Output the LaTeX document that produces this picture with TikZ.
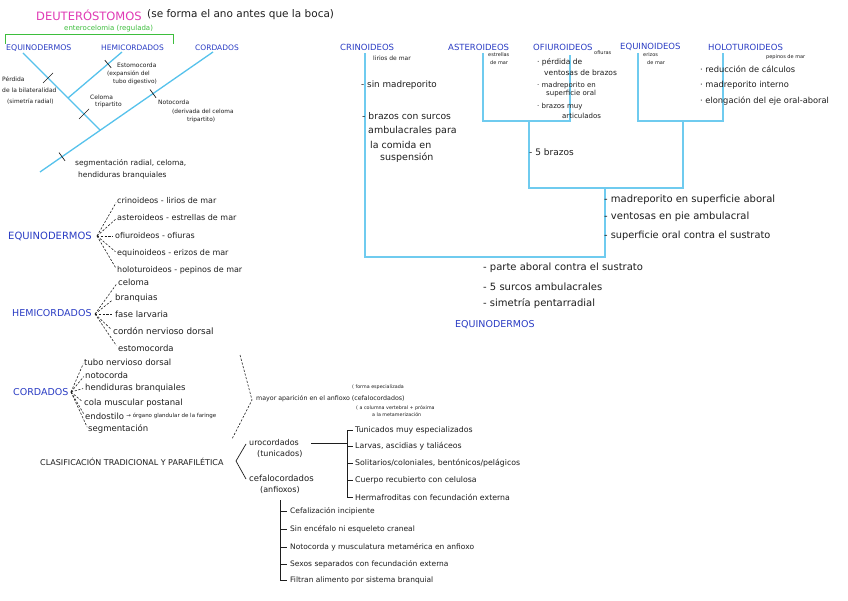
\documentclass[tikz,border=0pt]{standalone}
\usepackage{fontspec}
\setmainfont{DejaVu Sans}
\definecolor{tree}{HTML}{56C2EC}
\definecolor{hdr}{HTML}{2A3CC4}
\definecolor{mag}{HTML}{E03AB5}
\definecolor{grn}{HTML}{3DBE3D}
\definecolor{ink}{HTML}{1E1E1E}
\tikzset{
  fs/.style={font=\fontsize{#1}{#1}\selectfont},
  tx/.style={anchor=west, inner sep=0pt, text=ink, fs=#1}, tx/.default=7.5,
  hd/.style={anchor=west, inner sep=0pt, text=hdr, fs=#1}, hd/.default=8.5,
  cl/.style={draw=tree, line width=1.3pt},
  lk/.style={draw=tree!85, line width=1.1pt},
  tk/.style={draw=ink, line width=0.7pt},
  dsh/.style={draw=ink, line width=0.6pt, dash pattern=on 2.2pt off 1.6pt},
  blk/.style={draw=ink, line width=0.7pt},
}
\begin{document}
\begin{tikzpicture}[x=1pt,y=-1pt]
\useasboundingbox (0,0) rectangle (848,601);
\fill[white] (0,0) rectangle (848,601);

% ---------- title ----------
\node[tx=11.5, text=mag] (title) at (36,15) {DEUTERÓSTOMOS};
\node[tx=10.5] (sub) at (147,15) {(se forma el ano antes que la boca)};
\node[tx=7, text=grn] (grnt) at (64,29) {enterocelomia (regulada)};
\coordinate (g1) at (5,44); \coordinate (g2) at (5,35);
\coordinate (g3) at (173,35); \coordinate (g4) at (173,44);
\draw[draw=grn, line width=1pt] (g1) -- (g2) -- (g3) -- (g4);

% ---------- left cladogram ----------
\node[hd=7.8] (hEq) at (6,48) {EQUINODERMOS};
\node[hd=7.5] (hHe) at (101,48) {HEMICORDADOS};
\node[hd=7.5] (hCo) at (195,48) {CORDADOS};
\coordinate (cEq) at (23,53);
\coordinate (cHe) at (122,52);
\coordinate (cCo) at (213,52);
\coordinate (jA) at (68,98);
\coordinate (jB) at (100,130);
\coordinate (root) at (40,172);
\draw[cl] (cEq) -- (jB);
\draw[cl] (cHe) -- (jA);
\draw[cl] (cCo) -- (root);
\coordinate (t1a) at (43,83);   \coordinate (t1b) at (53,73);
\coordinate (t2a) at (79,119);  \coordinate (t2b) at (89,109);
\coordinate (t3a) at (104.8,60.2); \coordinate (t3b) at (111.2,67.8);
\coordinate (t4a) at (150,89.5); \coordinate (t4b) at (156,97.7);
\coordinate (t5a) at (59,152.6); \coordinate (t5b) at (65,160.8);
\draw[tk] (t1a) -- (t1b);
\draw[tk] (t2a) -- (t2b);
\draw[tk] (t3a) -- (t3b);
\draw[tk] (t4a) -- (t4b);
\draw[tk] (t5a) -- (t5b);
\node[tx=6] (l1a) at (2,79) {Pérdida};
\node[tx=6] (l1b) at (2,90) {de la bilateralidad};
\node[tx=5.8] (l1c) at (7,102) {(simetría radial)};
\node[tx=6] (l2a) at (117,65) {Estomocorda};
\node[tx=5.8] (l2b) at (107,74) {(expansión del};
\node[tx=5.8] (l2c) at (113,82) {tubo digestivo)};
\node[tx=6] (l3a) at (90,97) {Celoma};
\node[tx=6] (l3b) at (95,105) {tripartito};
\node[tx=6] (l4a) at (158,102) {Notocorda};
\node[tx=5.8] (l4b) at (172,112) {(derivada del celoma};
\node[tx=5.8] (l4c) at (187,120) {tripartito)};
\node[tx=7.5] (l5a) at (75,163) {segmentación radial, celoma,};
\node[tx=7.5] (l5b) at (78,175) {hendiduras branquiales};

% ---------- right cladogram ----------
\node[hd] (rCr) at (340,47) {CRINOIDEOS};
\node[hd] (rAs) at (448,47) {ASTEROIDEOS};
\node[hd] (rOf) at (533,47) {OFIUROIDEOS};
\node[hd] (rEq) at (620,47) {EQUINOIDEOS};
\node[hd] (rHo) at (708,47) {HOLOTUROIDEOS};
\coordinate (vCr) at (365,53);
\coordinate (vAs) at (483,53);
\coordinate (vOf) at (570,55);
\coordinate (vEq) at (638,53);
\coordinate (vHo) at (723,53);
\coordinate (kAs) at (483,121); \coordinate (kOf) at (570,121);
\coordinate (kEq) at (638,121); \coordinate (kHo) at (723,121);
\coordinate (bL) at (529,121); \coordinate (bLb) at (529,188);
\coordinate (bR) at (683,121); \coordinate (bRb) at (683,188);
\coordinate (mT) at (605,188); \coordinate (mB) at (605,257);
\coordinate (cB) at (365,257);
\draw[lk] (vAs) -- (kAs) -- (kOf) -- (vOf);
\draw[lk] (vEq) -- (kEq) -- (kHo) -- (vHo);
\draw[lk] (bL) -- (bLb) -- (bRb) -- (bR);
\draw[lk] (mT) -- (mB) -- (cB) -- (vCr);

\node[tx=6] (crA) at (373,58) {lirios de mar};
\node[tx=8.8] (crB) at (361,85) {- sin madreporito};
\node[tx=9.2] (crC) at (362,116) {- brazos con surcos};
\node[tx=9.5] (crD) at (368,131) {ambulacrales para};
\node[tx=9.5] (crE) at (370,145) {la comida en};
\node[tx=9.5] (crF) at (380,158) {suspensión};
\node[tx=5] (asA) at (488,55) {estrellas};
\node[tx=5] (asB) at (490,63) {de mar};
\node[tx=5] (ofA) at (594,53) {ofiuras};
\node[tx=7.5] (ofB) at (537,62) {· pérdida de};
\node[tx=7.5] (ofC) at (544,73) {ventosas de brazos};
\node[tx=7] (ofD) at (537,86) {· madreporito en};
\node[tx=7] (ofE) at (546,94) {superficie oral};
\node[tx=7] (ofF) at (537,107) {· brazos muy};
\node[tx=7] (ofG) at (562,116) {articulados};
\node[tx=5] (eqA) at (643,55) {erizos};
\node[tx=5] (eqB) at (647,63) {de mar};
\node[tx=5] (hoA) at (766,57.5) {pepinos de mar};
\node[tx=8.3] (hoB) at (700,69) {· reducción de cálculos};
\node[tx=8.3] (hoC) at (700,85) {· madreporito interno};
\node[tx=8.3] (hoD) at (700,101) {· elongación del eje oral-aboral};
\node[tx=9] (br5) at (529,152) {- 5 brazos};
\node[tx=10] (mA) at (604,200) {- madreporito en superficie aboral};
\node[tx=10] (mB2) at (604,217) {- ventosas en pie ambulacral};
\node[tx=9.8] (mC) at (604,236) {- superficie oral contra el sustrato};
\node[tx=10] (pA) at (483,268) {- parte aboral contra el sustrato};
\node[tx=10] (pB) at (483,287) {- 5 surcos ambulacrales};
\node[tx=10] (pC) at (483,304) {- simetría pentarradial};
\node[hd=9.5] (pEq) at (455,325) {EQUINODERMOS};

% ---------- left lists ----------
\node[hd=10] (LEq) at (8,236) {EQUINODERMOS};
\coordinate (oEq) at (97,236);
\node[tx=8] (e1) at (117,201) {crinoideos - lirios de mar};
\node[tx=8] (e2) at (117,218) {asteroideos - estrellas de mar};
\node[tx=8] (e3) at (115,236) {ofiuroideos - ofiuras};
\node[tx=8] (e4) at (117,253) {equinoideos - erizos de mar};
\node[tx=8] (e5) at (117,270) {holoturoideos - pepinos de mar};
\foreach \n in {e1,e2,e3,e4,e5} \draw[dsh, shorten >=2pt] (oEq) -- (\n.west);

\node[hd=9.5] (LHe) at (12,313) {HEMICORDADOS};
\coordinate (oHe) at (95,314);
\node[tx=8.5] (h1) at (118,282) {celoma};
\node[tx=8.5] (h2) at (115,298) {branquias};
\node[tx=8.5] (h3) at (115,314) {fase larvaria};
\node[tx=8.8] (h4) at (113,331) {cordón nervioso dorsal};
\node[tx=8.5] (h5) at (118,348) {estomocorda};
\foreach \n in {h1,h2,h3,h4,h5} \draw[dsh, shorten >=3pt] (oHe) -- (\n.west);

\node[hd=9.5] (LCo) at (13,392) {CORDADOS};
\coordinate (oCo) at (71,392);
\node[tx=8.5] (c1) at (84,362) {tubo nervioso dorsal};
\node[tx=8.5] (c2) at (85,375) {notocorda};
\node[tx=8.5] (c3) at (85,388) {hendiduras branquiales};
\node[tx=8.5] (c4) at (84,403) {cola muscular postanal};
\node[tx=8.5] (c5) at (85,416) {endostilo};
\node[tx=5.5, anchor=west] (c5b) at ([xshift=2pt]c5.east) {→ órgano glandular de la faringe};
\node[tx=8.5] (c6) at (88,429) {segmentación};
\foreach \n in {c1,c2,c3,c4,c5,c6} \draw[dsh, shorten >=2pt] (oCo) -- (\n.west);

\coordinate (bA) at (240,355); \coordinate (bB) at (252,400); \coordinate (bC) at (232,439);
\draw[dsh] (bA) -- (bB) -- (bC);
\node[tx=6.3] (may) at (256,399) {mayor aparición en el anfioxo (cefalocordados)};
\node[tx=4.8] (mayA) at (352,387) {( forma especializada};
\node[tx=4.8] (mayB) at (356,408) {( a columna vertebral + próxima};
\node[tx=4.8] (mayC) at (372,415) {a la metamerización};

% ---------- classification ----------
\node[tx=8] (clas) at (40,462) {CLASIFICACIÓN TRADICIONAL Y PARAFILÉTICA};
\coordinate (kA) at (246,444); \coordinate (kB) at (236,461); \coordinate (kC) at (246,479);
\draw[blk] (kA) -- (kB) -- (kC);
\node[tx=8] (uro) at (249,443) {urocordados};
\node[tx=8] (uroB) at (257,454) {(tunicados)};
\node[tx=8.5] (cef) at (249,478) {cefalocordados};
\node[tx=8] (cefB) at (260,490) {(anfioxos)};

\coordinate (UX) at (347,443);
\draw[blk] ([xshift=12pt]uro.east) -- (UX);
\node[tx=7.8] (u1) at (355,430) {Tunicados muy especializados};
\node[tx=7.8] (u2) at (355,446) {Larvas, ascidias y taliáceos};
\node[tx=7.8] (u3) at (355,463) {Solitarios/coloniales, bentónicos/pelágicos};
\node[tx=7.8] (u4) at (355,480) {Cuerpo recubierto con celulosa};
\node[tx=7.8] (u5) at (355,497) {Hermafroditas con fecundación externa};
\draw[blk] (u1.west -| UX) -- (u5.west -| UX);
\foreach \n in {u1,u2,u3,u4,u5} \draw[blk] (\n.west -| UX) -- ([xshift=-2pt]\n.west);

\coordinate (FX) at (280,500);
\node[tx=7.5] (f1) at (290,511) {Cefalización incipiente};
\node[tx=7.5] (f2) at (290,529) {Sin encéfalo ni esqueleto craneal};
\node[tx=7.5] (f3) at (290,547) {Notocorda y musculatura metamérica en anfioxo};
\node[tx=7.5] (f4) at (290,564) {Sexos separados con fecundación externa};
\node[tx=7.5] (f5) at (290,580) {Filtran alimento por sistema branquial};
\draw[blk] (FX) -- (f5.west -| FX);
\foreach \n in {f1,f2,f3,f4,f5} \draw[blk] (\n.west -| FX) -- ([xshift=-3pt]\n.west);
\end{tikzpicture}
\end{document}
